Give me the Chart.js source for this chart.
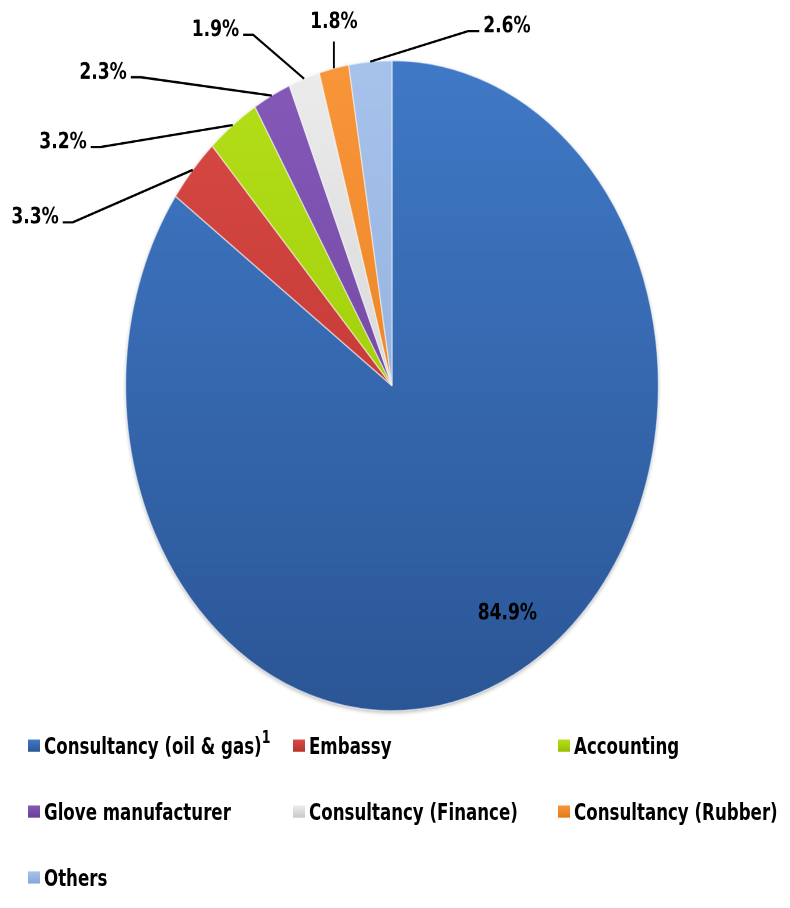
<!DOCTYPE html>
<html>
<head>
<meta charset="utf-8">
<script src="https://cdn.jsdelivr.net/npm/chart.js@4/dist/chart.umd.min.js"></script>
<style>
  html, body { margin: 0; padding: 0; background: #fff; overflow: hidden; }
  #wrap { position: absolute; left: 0; top: 0; width: 790px; height: 744px;
          transform: scaleY(1.2204); transform-origin: 0 0; }
  #chartBox { position: absolute; left: 0; top: 0; width: 790px; height: 744px; }
  #legend { position: absolute; left: 0; top: 0; width: 790px; height: 744px; }
  .item { position: absolute; height: 54px; display: flex; align-items: center;
          font-family: "DejaVu Sans Condensed", "DejaVu Sans", sans-serif; font-stretch: condensed;
          font-weight: bold; font-size: 18.5px; color: #000; white-space: nowrap; }
  .box { width: 12px; height: 10px; margin-right: 4px; flex: none; }
  .item sup { font-size: 14px; font-weight: bold; position: relative; top: -7px; margin-left: 0px; }
</style>
</head>
<body>
<div id="wrap">
  <div id="chartBox"><canvas id="c"></canvas></div>
  <div id="legend"></div>
</div>
<script>
// ---- data ----
const categories = ['Consultancy (oil & gas)', 'Embassy', 'Accounting', 'Glove manufacturer',
                    'Consultancy (Finance)', 'Consultancy (Rubber)', 'Others'];
const shares = [84.9, 3.3, 3.2, 2.3, 1.9, 1.8, 2.6];
const footnotes = ['1', '', '', '', '', '', ''];

// ---- styles ----
const lightColors = ['#4079c6', '#d84a46', '#b4e01a', '#8459b8', '#ececec', '#f9963a', '#a7c3ec'];
const darkColors  = ['#2b5696', '#b8302c', '#96c000', '#6a3f98', '#c8c8c8', '#e27a18', '#86a6d6'];
const labelLayout = [
  { mode: 'inside', dx: 18, dy: -3 },
  { mode: 'left', dx: -120, dy: 43 },
  { mode: 'left', dx: -132, dy: 18 },
  { mode: 'left', dx: -131, dy: -15 },
  { mode: 'left', dx: -51, dy: -36 },
  { mode: 'top', dx: 0, dy: -22 },
  { mode: 'right', dx: 98, dy: -25 }
];
const FONT = 'bold 19px "DejaVu Sans Condensed", "DejaVu Sans", sans-serif';

function grad(chart, i) {
  const a = chart.chartArea;
  if (!a) return lightColors[i];
  const g = chart.ctx.createLinearGradient(0, a.top, 0, a.bottom);
  g.addColorStop(0, lightColors[i]);
  g.addColorStop(1, darkColors[i]);
  return g;
}

const shadowPlugin = {
  id: 'shadow',
  beforeDatasetsDraw(chart) {
    const arc = chart.getDatasetMeta(0).data[0];
    if (!arc) return;
    const ctx = chart.ctx;
    ctx.save();
    ctx.shadowColor = 'rgba(0,0,0,0.45)';
    ctx.shadowBlur = 9;
    ctx.shadowOffsetY = 3;
    ctx.fillStyle = '#2b5696';
    ctx.beginPath();
    ctx.arc(arc.x, arc.y, arc.outerRadius - 1, 0, Math.PI * 2);
    ctx.fill();
    ctx.restore();
  }
};

const labelPlugin = {
  id: 'pctLabels',
  afterDatasetsDraw(chart) {
    const ctx = chart.ctx;
    const arcs = chart.getDatasetMeta(0).data;
    ctx.save();
    ctx.font = FONT;
    ctx.fillStyle = '#000';
    ctx.strokeStyle = '#000';
    ctx.lineWidth = 1.9;
    arcs.forEach((arc, i) => {
      const mid = (arc.startAngle + arc.endAngle) / 2;
      const R = arc.outerRadius;
      const txt = shares[i].toFixed(1) + '%';
      const L = labelLayout[i];
      if (L.mode === 'inside') {
        const x = arc.x + 0.8 * R * Math.cos(mid) + L.dx;
        const y = arc.y + 0.8 * R * Math.sin(mid) + L.dy;
        ctx.textAlign = 'center';
        ctx.textBaseline = 'middle';
        ctx.fillText(txt, x, y);
        return;
      }
      const px = arc.x + R * Math.cos(mid);
      const py = arc.y + R * Math.sin(mid);
      const ex = px + L.dx, ey = py + L.dy;
      ctx.beginPath();
      ctx.moveTo(px, py);
      ctx.lineTo(ex, ey);
      ctx.textBaseline = 'alphabetic';
      if (L.mode === 'left') {
        ctx.lineTo(ex - 10, ey);
        ctx.stroke();
        ctx.textAlign = 'right';
        ctx.fillText(txt, ex - 14, ey + 1);
      } else if (L.mode === 'right') {
        ctx.lineTo(ex + 11, ey);
        ctx.stroke();
        ctx.textAlign = 'left';
        ctx.fillText(txt, ex + 15, ey + 1);
      } else {
        ctx.stroke();
        ctx.textAlign = 'center';
        ctx.fillText(txt, ex, ey - 11);
      }
    });
    ctx.restore();
  }
};

new Chart(document.getElementById('c'), {
  type: 'pie',
  data: {
    labels: categories,
    datasets: [{
      data: shares,
      backgroundColor: (c) => grad(c.chart, c.dataIndex),
      borderColor: 'rgba(255,255,255,0.55)',
      borderWidth: 1.2
    }]
  },
  options: {
    responsive: true,
    maintainAspectRatio: false,
    devicePixelRatio: 2,
    animation: false,
    layout: { padding: { left: 125, right: 131, top: 49, bottom: 161 } },
    plugins: { legend: { display: false }, tooltip: { enabled: false } }
  },
  plugins: [shadowPlugin, labelPlugin]
});

// ---- HTML legend (3 columns) ----
const legend = document.getElementById('legend');
categories.forEach((name, i) => {
  const col = i % 3, row = Math.floor(i / 3);
  const el = document.createElement('div');
  el.className = 'item';
  el.style.left = (28 + col * 265) + 'px';
  el.style.top = (584 + row * 54) + 'px';
  const box = document.createElement('span');
  box.className = 'box';
  box.style.background = 'linear-gradient(' + lightColors[i] + ',' + darkColors[i] + ')';
  el.appendChild(box);
  const t = document.createElement('span');
  t.textContent = name;
  el.appendChild(t);
  if (footnotes[i]) {
    const s = document.createElement('sup');
    s.textContent = footnotes[i];
    el.appendChild(s);
  }
  legend.appendChild(el);
});
</script>
</body>
</html>
